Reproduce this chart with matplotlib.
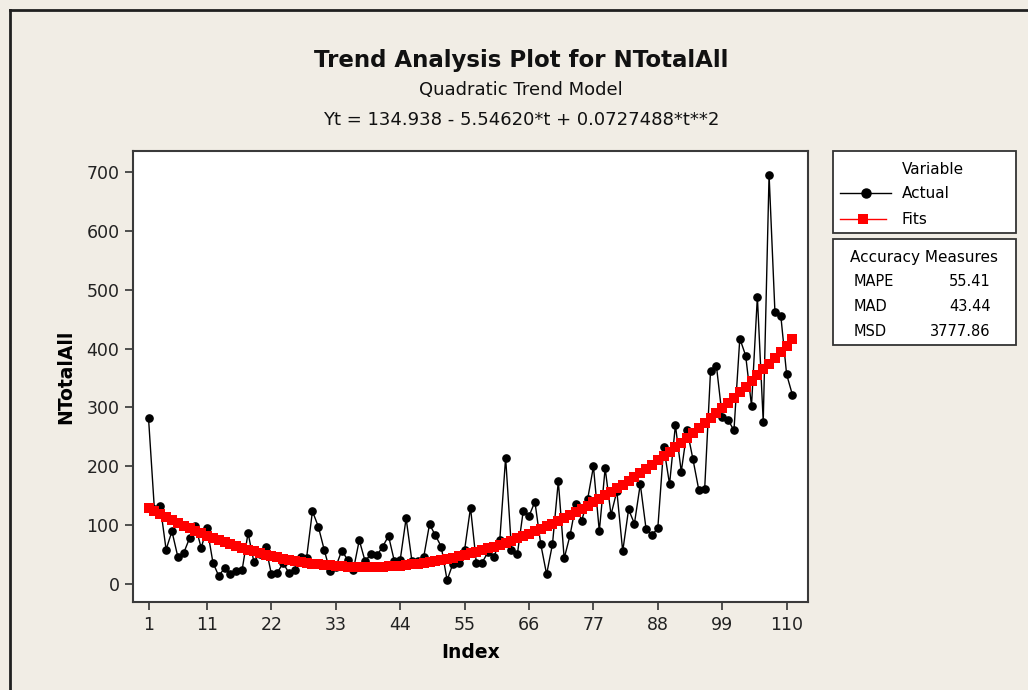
import numpy as np
import matplotlib
matplotlib.use("Agg")
import matplotlib.pyplot as plt
from matplotlib.lines import Line2D
from matplotlib.patches import Rectangle

# ---------------- data ----------------
actual = [
    282, 128, 133, 59, 90, 47, 53, 78, 99, 62,
    96, 37, 14, 28, 18, 22, 25, 87, 38, 52,
    64, 17, 20, 36, 19, 25, 47, 45, 124, 98,
    59, 22, 30, 57, 42, 25, 75, 39, 52, 49,
    64, 82, 39, 42, 112, 39, 40, 46, 102, 83,
    64, 7, 35, 36, 59, 130, 36, 37, 55, 46,
    75, 215, 59, 51, 124, 116, 140, 68, 17, 68,
    175, 44, 83, 136, 108, 144, 200, 90, 197, 118,
    158, 56, 127, 103, 170, 93, 83, 96, 233, 170,
    270, 191, 262, 212, 160, 162, 362, 371, 284, 279,
    261, 417, 388, 303, 488, 276, 695, 462, 456, 356,
    321,
]
index = list(range(1, len(actual) + 1))

# quadratic trend model coefficients (from the chart's equation)
coef_b0 = 134.938
coef_b1 = -5.54620
coef_b2 = 0.0727488

x_ticks = [1, 11, 22, 33, 44, 55, 66, 77, 88, 99, 110]
y_ticks = [0, 100, 200, 300, 400, 500, 600, 700]

measure_names = ["MAPE", "MAD", "MSD"]
measure_values = ["55.41", "43.44", "3777.86"]

title = "Trend Analysis Plot for NTotalAll"
subtitle = "Quadratic Trend Model"
equation = "Yt = 134.938 - 5.54620*t + 0.0727488*t**2"

# ---------------- figure ----------------
W, H = 1028, 690
BG = "#F1EDE5"
FONT = "DejaVu Sans"
plt.rcParams["font.family"] = FONT

fig = plt.figure(figsize=(W / 100, H / 100), dpi=100, facecolor=BG)

def fx(px):
    return px / W

def fy(py):
    return 1 - py / H

ax_l, ax_r, ax_t, ax_b = 133.3, 808.3, 150.7, 602.3
ax = fig.add_axes([fx(ax_l), fy(ax_b), (ax_r - ax_l) / W, (ax_b - ax_t) / H])
ax.set_facecolor("white")

t = np.array(index, dtype=float)
fits = coef_b0 + coef_b1 * t + coef_b2 * t ** 2

ax.plot(index, actual, color="black", lw=1.0, marker="o", ms=5.2,
        mec="black", mfc="black", zorder=3)
ax.plot(index, fits, color="#FF0000", lw=1.0, marker="s", ms=6.6,
        mec="#FF0000", mfc="#FF0000", mew=0, zorder=4)

ax.set_xlim(-1.6, 113.7)
ax.set_ylim(-30.5, 735.6)
ax.set_xticks(x_ticks)
ax.set_yticks(y_ticks)
ax.tick_params(axis="both", direction="out", length=6, width=1.2,
               color="#333333", labelsize=12.5, labelcolor="#222222", pad=4)
for s in ax.spines.values():
    s.set_color("#3a3a3a")
    s.set_linewidth(1.5)

ax.set_xlabel("Index", fontsize=13.5, fontweight="bold", labelpad=6)
ax.set_ylabel("NTotalAll", fontsize=13.5, fontweight="bold", labelpad=8)

# titles
cx = fx(521)
fig.text(cx, fy(60), title, ha="center", va="center", fontsize=16.5,
         fontweight="bold", color="#111111")
fig.text(cx, fy(90), subtitle, ha="center", va="center", fontsize=13,
         color="#111111")
fig.text(cx, fy(120), equation, ha="center", va="center", fontsize=13,
         color="#111111")

# outer frame (top and left)
fig.add_artist(Line2D([fx(10), fx(W)], [fy(10), fy(10)], color="#202020", lw=2.0))
fig.add_artist(Line2D([fx(10), fx(10)], [fy(10), fy(H)], color="#202020", lw=2.0))

# legend box 1
def box(x0, y0, x1, y1):
    fig.add_artist(Rectangle((fx(x0), fy(y1)), (x1 - x0) / W, (y1 - y0) / H,
                             facecolor="white", edgecolor="#333333", lw=1.3))

box(833.3, 150.7, 1016, 232.7)
fig.text(fx(901.7), fy(169.3), "Variable", ha="left", va="center", fontsize=11)
fig.add_artist(Line2D([fx(840), fx(891)], [fy(193.3), fy(193.3)], color="black", lw=1.0))
fig.add_artist(Line2D([fx(865.5)], [fy(193.3)], color="black", marker="o", ms=6.5))
fig.text(fx(901.7), fy(193.3), "Actual", ha="left", va="center", fontsize=11)
fig.add_artist(Line2D([fx(840), fx(886)], [fy(219.3), fy(219.3)], color="#FF0000", lw=1.0))
fig.add_artist(Line2D([fx(862.5)], [fy(219.3)], color="#FF0000", marker="s", ms=6.5, mew=0))
fig.text(fx(901.7), fy(219.3), "Fits", ha="left", va="center", fontsize=11)

# legend box 2
box(833.3, 239.3, 1016, 345)
fig.text(fx(924.5), fy(257.3), "Accuracy Measures", ha="center", va="center", fontsize=11)
for i, (n, v) in enumerate(zip(measure_names, measure_values)):
    yy = 281.7 + 25 * i
    fig.text(fx(853.3), fy(yy), n, ha="left", va="center", fontsize=10.5)
    fig.text(fx(990.7), fy(yy), v, ha="right", va="center", fontsize=10.5)

fig.savefig("out.png", dpi=100, facecolor=BG)
